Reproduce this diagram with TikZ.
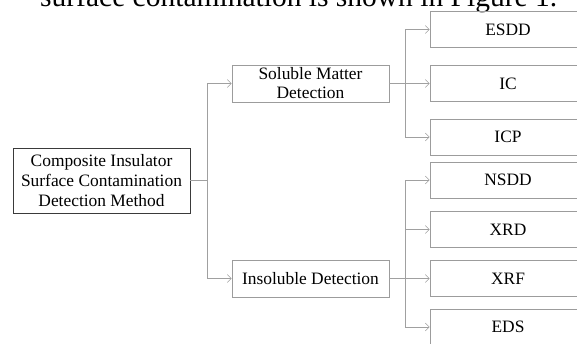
\documentclass[tikz,border=0pt]{standalone}
\usepackage{fontspec}
\setmainfont{Liberation Serif}
\usetikzlibrary{arrows.meta}
\definecolor{wire}{HTML}{A0A0A0}
\definecolor{frame}{HTML}{9C9C9C}
\definecolor{dark}{HTML}{3A3A3A}
\tikzset{
  leaf/.style={draw=frame,line width=0.7pt,minimum width=156pt,minimum height=36pt,inner sep=0pt},
  mid/.style={draw=frame,line width=0.7pt,minimum width=157pt,minimum height=37pt,inner sep=0pt,align=center},
  link/.style={draw=wire,line width=0.6pt},
  tip/.style={link,-{Straight Barb[length=4pt,width=8pt,line width=0.5pt]}}
}
\begin{document}
\begin{tikzpicture}[x=1pt,y=-1pt,font=\fontsize{17.4}{19}\selectfont]
  \useasboundingbox (0,0) rectangle (577,343);
  % caption line of the page, cut at the top
  \node[anchor=base west,inner sep=0pt,font=\fontsize{29.5}{32}\selectfont] (cap) at (40,6)
    {surface contamination is shown in Figure 1.};
  % root
  \node[draw=dark,line width=0.7pt,minimum width=177pt,minimum height=65pt,inner sep=0pt,
        align=center,font=\fontsize{17.4}{20}\selectfont] (root) at (101.5,180.5)
    {Composite Insulator\\Surface Contamination\\Detection Method};
  % middle level
  \node[mid] (sol) at (310.5,83.5) {Soluble Matter\\Detection};
  \node[mid] (insol) at (310.5,278.5) {Insoluble Detection};
  % leaves of soluble
  \node[leaf] (esdd) at (508,29.5) {ESDD};
  \node[leaf] (ic) at (508,83.5) {IC};
  \node[leaf] (icp) at (508,137) {ICP};
  % leaves of insoluble
  \node[leaf] (nsdd) at (508,180) {NSDD};
  \node[leaf] (xrd) at (508,229.5) {XRD};
  \node[leaf] (xrf) at (508,278.5) {XRF};
  \node[leaf] (eds) at (508,327) {EDS};
  % bus points
  \coordinate (lbus) at (207,180.5);
  \coordinate (sbus) at (405,83.5);
  \coordinate (ibus) at (405,278.5);
  % root to middle
  \draw[link] (root.east) -- (lbus);
  \draw[tip] (lbus) |- (sol.west);
  \draw[tip] (lbus) |- (insol.west);
  % soluble to leaves
  \draw[link] (sol.east) -- (sbus);
  \draw[tip] (sbus) |- (esdd.west);
  \draw[tip] (sbus) -- (ic.west);
  \draw[tip] (sbus) |- (icp.west);
  % insoluble to leaves
  \draw[link] (insol.east) -- (ibus);
  \draw[tip] (ibus) |- (nsdd.west);
  \draw[tip] (ibus) |- (xrd.west);
  \draw[tip] (ibus) -- (xrf.west);
  \draw[tip] (ibus) |- (eds.west);
\end{tikzpicture}
\end{document}
